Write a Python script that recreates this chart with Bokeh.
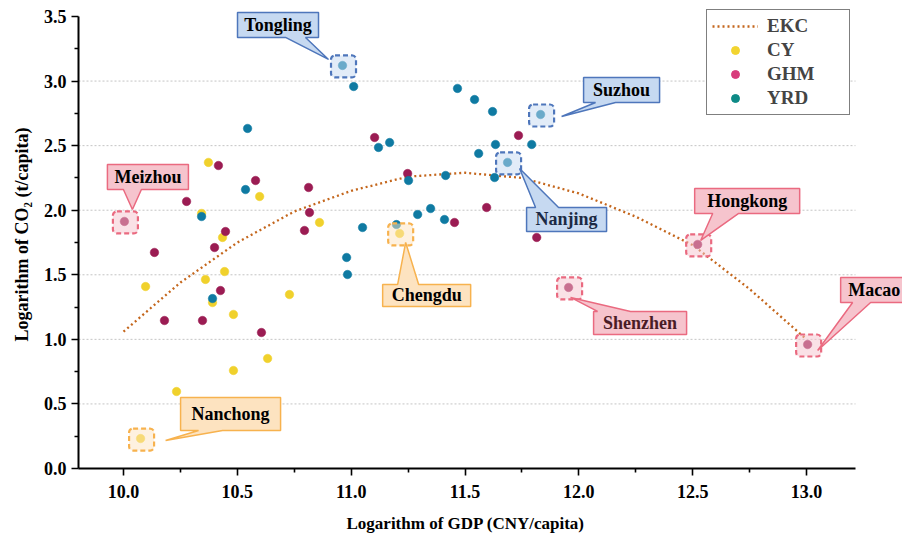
from bokeh.plotting import figure
from bokeh.models import FixedTicker, PrintfTickFormatter, Legend, LegendItem, Title
from bokeh.core.properties import value
from bokeh.embed import file_html
from bokeh.resources import INLINE

# ---------------- data ----------------
yrd_x = [10.962, 11.011, 10.545, 10.536, 10.343, 10.391, 10.980, 10.984, 11.050, 11.120,
         11.169, 11.252, 11.292, 11.349, 11.410, 11.415, 11.199, 11.467, 11.542, 11.560,
         11.621, 11.832, 11.634, 11.793, 11.687, 11.630]
yrd_y = [3.121, 2.958, 2.633, 2.160, 1.951, 1.316, 1.634, 1.502, 1.866, 2.486,
         2.524, 2.230, 1.967, 2.013, 1.928, 2.269, 1.889, 2.943, 2.857, 2.439,
         2.764, 2.741, 2.509, 2.509, 2.370, 2.253]

ghm_x = [11.103, 10.417, 10.277, 10.580, 10.813, 10.817, 10.795, 11.248, 11.454, 10.448,
         10.400, 10.004, 10.136, 10.180, 10.347, 10.426, 10.606, 11.735, 11.595, 11.815,
         11.955, 12.522, 13.005]
ghm_y = [2.563, 2.346, 2.068, 2.230, 2.176, 1.982, 1.843, 2.284, 1.905, 1.835,
         1.711, 1.913, 1.673, 1.146, 1.146, 1.378, 1.053, 2.579, 2.021, 1.789,
         1.402, 1.735, 0.960]

cy_x = [10.373, 10.598, 10.861, 11.213, 10.435, 10.097, 10.360, 10.444, 10.391, 10.483,
        10.729, 10.633, 10.483, 10.233, 10.075, 10.343]
cy_y = [2.370, 2.106, 1.905, 1.820, 1.789, 1.409, 1.464, 1.525, 1.285, 1.193,
        1.347, 0.852, 0.759, 0.596, 0.232, 1.975]

ekc_x = [10.0, 10.25, 10.5, 10.75, 11.0, 11.25, 11.5, 11.75, 12.0, 12.25, 12.5, 12.75, 13.0]
ekc_y = [1.06, 1.44, 1.75, 1.99, 2.15, 2.26, 2.29, 2.25, 2.13, 1.95, 1.73, 1.39, 1.00]

x_ticks = [10.0, 10.5, 11.0, 11.5, 12.0, 12.5, 13.0]
x_minor = [10.25, 10.75, 11.25, 11.75, 12.25, 12.75]
y_ticks = [0.0, 0.5, 1.0, 1.5, 2.0, 2.5, 3.0, 3.5]
y_minor = [0.25, 0.75, 1.25, 1.75, 2.25, 2.75, 3.25]
grid_y = [0.5, 1.0, 1.5, 2.0, 2.5, 3.0]

# highlighted cities: (name, group, index into that group's arrays)
highlights = [("Tongling", "YRD", 0), ("Suzhou", "YRD", 21), ("Nanjing", "YRD", 24),
              ("Meizhou", "GHM", 11), ("Hongkong", "GHM", 21), ("Macao", "GHM", 22),
              ("Shenzhen", "GHM", 20), ("Chengdu", "CY", 3), ("Nanchong", "CY", 14)]

# ---------------- geometry / style ----------------
FONT = "Liberation Serif, Times New Roman, serif"
Y_AX_END = 3.5
SX = 683 / 3.0          # px per x unit
SY = 452 / 3.5          # px per y unit
X0 = 10.0 - 45 / SX
AX_END = X0 + 777 / SX
FW, FH = 824, 468
X1 = X0 + FW / SX
Y0, Y1 = 0.0, FH / SY

series = {"YRD": (yrd_x, yrd_y), "GHM": (ghm_x, ghm_y), "CY": (cy_x, cy_y)}
pt_color = {"YRD": "#0f7aa2", "GHM": "#9b1c53", "CY": "#f0d12c"}
leg_color = {"YRD": "#0e8a86", "GHM": "#d83d7c", "CY": "#f2d430"}
box_fill = {"YRD": "#c6d9f1", "GHM": "#f6c4cd", "CY": "#fde3c0"}
box_line = {"YRD": "#4e76bb", "GHM": "#ea6a80", "CY": "#f7b24e"}
txt_col = {"Nanjing": "#1c2a44", "Shenzhen": "#4a1c26"}

# callout layout in screen pixels relative to the point: box l, r, t, b; tail edge; base b1, b2; tip
layout = {
    "Tongling": (-105, -24, -53, -28, "bottom", -57, -37, (-14, -6)),
    "Suzhou":   (43, 119, -37, -12, "bottom", 55, 75, (21, 2)),
    "Nanjing":  (19, 99, 45, 69, "top", 28, 51, (12, 6)),
    "Meizhou":  (-17, 64, -57, -32, "bottom", -1, 17, (8, -12)),
    "Hongkong": (-3, 102, -56, -31, "bottom", 15, 41, (3, -4)),
    "Macao":    (33, 100, -67, -42, "bottom", 45, 63, (10, 6)),
    "Shenzhen": (25, 118, 24, 47, "top", 29, 62, (2, 10)),
    "Chengdu":  (-17, 71, 51, 73, "top", -2, 19, (6, 9)),
    "Nanchong": (40, 140, -41, -8, "bottom", 58, 82, (25, 2)),
}

p = figure(frame_width=FW, frame_height=FH, x_range=(X0, X1), y_range=(Y0, Y1),
           output_backend="svg", toolbar_location=None,
           min_border_left=78, min_border_right=0, min_border_top=0, min_border_bottom=70)
p.outline_line_color = None
p.background_fill_color = "white"
p.border_fill_color = "white"
p.xgrid.visible = False
p.ygrid.visible = False

# grid lines (only across the axis extent)
p.segment(x0=[X0] * len(grid_y), x1=[AX_END] * len(grid_y), y0=grid_y, y1=grid_y,
          line_color="#c4c4c4", line_width=1, line_dash="2 2")

# EKC curve
ekc_r = p.line(ekc_x, ekc_y, line_color="#c4661c", line_width=2.3, line_dash="2 3")

# points
for g in ["CY", "GHM", "YRD"]:
    xs, ys = series[g]
    p.scatter(xs, ys, size=8.5, fill_color=pt_color[g], line_color=pt_color[g], line_width=0.5)

# highlight squares and callouts
hx, hy, hf, hl = [], [], [], []
pxs, pys, pf, pl = [], [], [], []
tx, ty, tt, tc = [], [], [], []
for name, g, i in highlights:
    x = series[g][0][i]
    y = series[g][1][i]
    hx.append(x + 1 / SX)
    hy.append(y - 1 / SY)
    hf.append(box_fill[g])
    hl.append(box_line[g])
    l, r, t, b, edge, b1, b2, tip = layout[name]
    if edge == "bottom":
        pts = [(l, t), (r, t), (r, b), (b2, b), tip, (b1, b), (l, b)]
    else:
        pts = [(l, t), (b1, t), tip, (b2, t), (r, t), (r, b), (l, b)]
    pxs.append([x + dx / SX for dx, dy in pts])
    pys.append([y - dy / SY for dx, dy in pts])
    pf.append(box_fill[g])
    pl.append(box_line[g])
    tx.append(x + (l + r) / 2 / SX)
    ty.append(y - (t + b) / 2 / SY)
    tt.append(name)
    tc.append(txt_col.get(name, "#000000"))

p.rect(x=hx, y=hy, width=25, height=22, width_units="screen", height_units="screen",
       fill_color=hf, fill_alpha=0.5, line_color=hl, line_width=2.2, line_dash="5 3",
       border_radius=4)
p.patches(xs=pxs, ys=pys, fill_color=pf, line_color=pl, line_width=1.5)
p.text(x=tx, y=ty, text=tt, text_color=tc, text_font=value(FONT), text_font_style="bold",
       text_font_size="18px", text_align="center", text_baseline="middle")

# legend-only renderers (legend colours differ from the point colours)
nan = float("nan")
dummies = {}
for g in ["CY", "GHM", "YRD"]:
    dummies[g] = p.scatter(x=[nan], y=[nan], size=11, fill_color=leg_color[g],
                           line_color=leg_color[g])

legend = Legend(items=[LegendItem(label="EKC", renderers=[ekc_r]),
                       LegendItem(label="CY", renderers=[dummies["CY"]]),
                       LegendItem(label="GHM", renderers=[dummies["GHM"]]),
                       LegendItem(label="YRD", renderers=[dummies["YRD"]])],
                location=(628, 353))
legend.border_line_color = "black"
legend.border_line_width = 1.8
legend.background_fill_color = "white"
legend.background_fill_alpha = 1
legend.label_text_font = FONT
legend.label_text_font_style = "bold"
legend.label_text_font_size = "19px"
legend.glyph_width = 46
legend.glyph_height = 20
legend.label_height = 20
legend.label_width = 77
legend.label_standoff = 9
legend.padding = 5
legend.spacing = 2
legend.margin = 0
p.add_layout(legend)

# axes
for ax in (p.xaxis[0], p.yaxis[0]):
    ax.axis_line_width = 2
    ax.axis_line_color = "black"
    ax.major_tick_line_width = 1.6
    ax.minor_tick_line_width = 1.6
    ax.major_tick_in = 0
    ax.major_tick_out = 7
    ax.minor_tick_in = 0
    ax.minor_tick_out = 4
    ax.major_label_text_font = FONT
    ax.major_label_text_font_style = "bold"
    ax.major_label_text_font_size = "18px"
    ax.major_label_text_color = "black"
    ax.axis_label_text_font = FONT
    ax.axis_label_text_font_style = "bold"
    ax.axis_label_text_font_size = "18px"
    ax.axis_label_text_color = "black"
    ax.formatter = PrintfTickFormatter(format="%.1f")

p.xaxis.ticker = FixedTicker(ticks=x_ticks, minor_ticks=x_minor)
p.yaxis.ticker = FixedTicker(ticks=y_ticks, minor_ticks=y_minor)
p.xaxis.bounds = (X0, AX_END)
p.yaxis.bounds = (0.0, Y_AX_END)
p.yaxis.axis_label = "Logarithm of CO\u2082 (t/capita)"
p.xaxis.major_label_standoff = 9
p.yaxis.major_label_standoff = 5
p.yaxis.axis_label_standoff = 9

# x-axis title, placed so that it is centred under the drawn axis extent
xtitle = Title(text="Logarithm of GDP (CNY/capita)", align="left", offset=268,
               text_font=FONT, text_font_style="bold", text_font_size="17px",
               text_color="black", standoff=23)
p.add_layout(xtitle, "below")

open("out.html", "w").write(file_html(p, INLINE))
